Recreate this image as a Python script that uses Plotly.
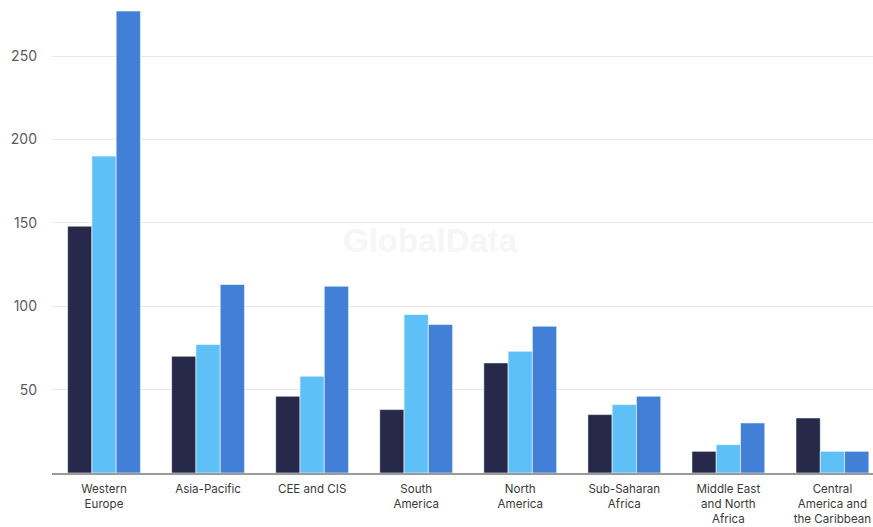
import plotly.graph_objects as go

regions = [
    "Western<br>Europe", "Asia-Pacific", "CEE and CIS", "South<br>America",
    "North<br>America", "Sub-Saharan<br>Africa", "Middle East<br>and North<br>Africa",
    "Central<br>America and<br>the Caribbean",
]
series_a = [148, 70, 46, 38, 66, 35, 13, 33]
series_b = [190, 77, 58, 95, 73, 41, 17, 13]
series_c = [277, 113, 112, 89, 88, 46, 30, 13]

y_ticks = [50, 100, 150, 200, 250]
colors = ["#262949", "#5fc0f8", "#427fd6"]

fig = go.Figure()
for name, vals, col in zip(["A", "B", "C"], [series_a, series_b, series_c], colors):
    fig.add_trace(go.Bar(
        x=list(range(len(regions))), y=vals, name=name,
        marker=dict(color=col, line=dict(color="rgba(255,255,255,0.55)", width=1)),
        showlegend=False, hoverinfo="skip",
    ))

# faint watermark behind the bars
fig.add_annotation(
    text="<b>GlobalData</b>", x=0.4616, y=0.504, xref="paper", yref="paper",
    showarrow=False, font=dict(family="Liberation Sans, Arial, sans-serif", size=33, color="#f6f6f6"),
)

fig.update_layout(
    width=873, height=527,
    margin=dict(l=52, r=0, t=11, b=54),
    paper_bgcolor="white", plot_bgcolor="white",
    barmode="group", bargap=0.3, bargroupgap=0,
    font=dict(family="Inter, Liberation Sans, sans-serif"),
    xaxis=dict(
        tickmode="array", tickvals=list(range(len(regions))), ticktext=regions,
        range=[-0.5, 7.39], showgrid=False, zeroline=False,
        showline=True, linecolor="#9a9a9a", linewidth=1.5,
        ticks="", ticklabelstandoff=4, ticklabeloverflow="allow", automargin=False,
        tickfont=dict(size=11.6, color="#3a3a3a"),
    ),
    yaxis=dict(
        range=[0, 277], tickvals=y_ticks, showgrid=True, gridcolor="#e9e9e9", gridwidth=1,
        zeroline=False, showline=False, ticks="", ticklabelstandoff=14, automargin=False,
        tickfont=dict(size=14, color="#5a5a64"),
    ),
)

fig.write_html("out.html")
